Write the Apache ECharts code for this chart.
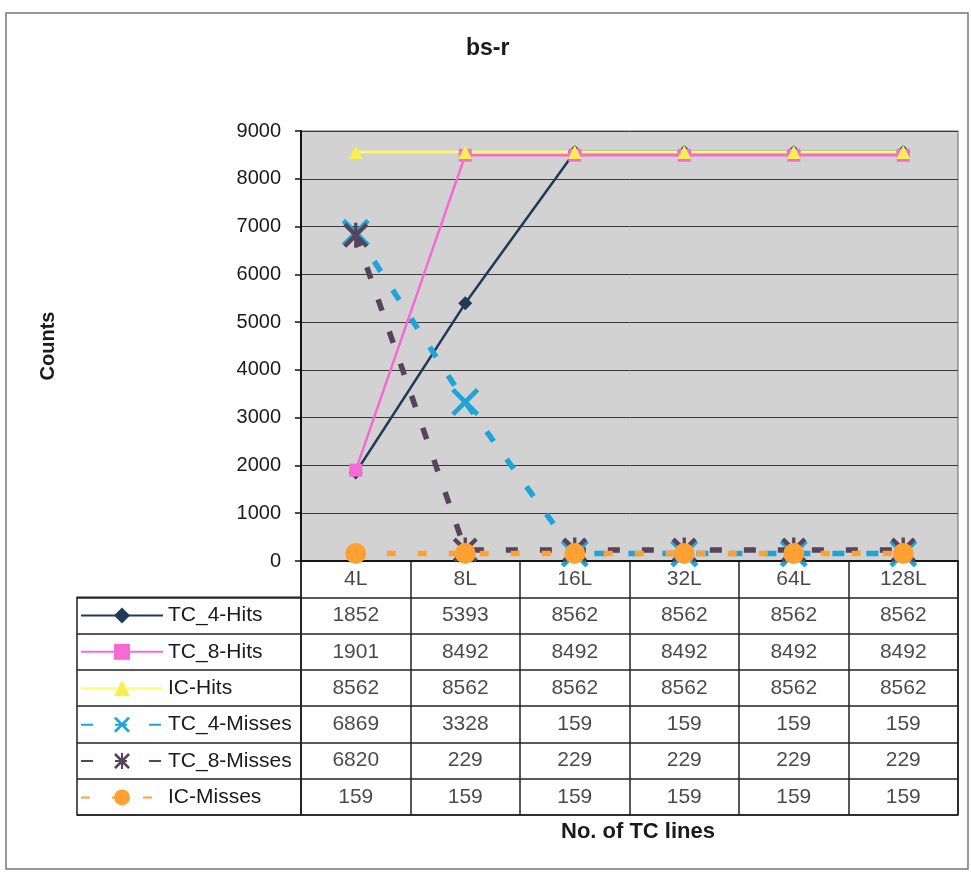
<!DOCTYPE html>
<html>
<head>
<meta charset="utf-8">
<script src="https://cdn.jsdelivr.net/npm/echarts@6/dist/echarts.min.js"></script>
<style>
html,body{margin:0;padding:0;background:#fff;}
#chart{width:971px;height:872px;}
</style>
</head>
<body>
<div id="chart"></div>
<script>
const categories = ['4L', '8L', '16L', '32L', '64L', '128L'];
const seriesNames = ['TC_4-Hits', 'TC_8-Hits', 'IC-Hits', 'TC_4-Misses', 'TC_8-Misses', 'IC-Misses'];
const tc4Hits = [1852, 5393, 8562, 8562, 8562, 8562];
const tc8Hits = [1901, 8492, 8492, 8492, 8492, 8492];
const icHits = [8562, 8562, 8562, 8562, 8562, 8562];
const tc4Misses = [6869, 3328, 159, 159, 159, 159];
const tc8Misses = [6820, 229, 229, 229, 229, 229];
const icMisses = [159, 159, 159, 159, 159, 159];
const yTicks = [0, 1000, 2000, 3000, 4000, 5000, 6000, 7000, 8000, 9000];

const FONT = '"Liberation Sans", Arial, sans-serif';
const X_PATH = 'path://M0,1.2L1.2,0L5,3.8L8.8,0L10,1.2L6.2,5L10,8.8L8.8,10L5,6.2L1.2,10L0,8.8L3.8,5Z';
const STAR_PATH = X_PATH + 'M4.35,0L5.65,0L5.65,10L4.35,10Z';

const allValues = [tc4Hits, tc8Hits, icHits, tc4Misses, tc8Misses, icMisses];

const plot = {left: 301, top: 131, width: 657, height: 430};
const rowH = 36.3;
const tableGrid = {left: 301, top: 561, width: 657, height: rowH * 7};
const legendGrid = {left: 77, top: 561 + rowH, width: 224, height: rowH * 6};

// table cell data
const headerCells = categories.map((c, i) => [i, 0, c]);
const valueCells = [];
allValues.forEach((arr, r) => arr.forEach((v, c) => valueCells.push([c, r + 1, v])));

const chart = echarts.init(document.getElementById('chart'));
const lineSeries = [
  {name: seriesNames[0], data: tc4Hits, color: '#1f3b57', symbol: 'diamond', symbolSize: 14,
   lineStyle: {width: 2.5, type: 'solid'}},
  {name: seriesNames[1], data: tc8Hits, color: '#f56bd3', symbol: 'rect', symbolSize: 13,
   lineStyle: {width: 2.5, type: 'solid'}},
  {name: seriesNames[2], data: icHits, color: '#f5ee55', symbol: 'triangle', symbolSize: 14,
   lineStyle: {width: 2.5, type: 'solid', color: '#ffff66'}},
  {name: seriesNames[3], data: tc4Misses, color: '#1ea5d8', symbol: X_PATH, symbolSize: 28,
   lineStyle: {width: 5.5, type: [12, 22]}},
  {name: seriesNames[4], data: tc8Misses, color: '#55445a', symbol: STAR_PATH, symbolSize: 25,
   lineStyle: {width: 5.5, type: [12, 22]}},
  {name: seriesNames[5], data: icMisses, color: '#ffa033', symbol: 'circle', symbolSize: 21,
   lineStyle: {width: 5.5, type: [9, 22]}}
].map(s => Object.assign({
  type: 'line', xAxisIndex: 0, yAxisIndex: 0, showAllSymbol: true, animation: false,
  itemStyle: {color: s.color, opacity: 1}
}, s));

const option = {
  animation: false,
  backgroundColor: '#ffffff',
  title: [
    {text: 'bs-r', left: 466, top: 37, padding: 0,
     textStyle: {fontFamily: FONT, fontSize: 23, fontWeight: 'bold', color: '#1a1a1a'}},
    {text: 'No. of TC lines', left: 561, top: 821, padding: 0,
     textStyle: {fontFamily: FONT, fontSize: 22, fontWeight: 'bold', color: '#1a1a1a'}}
  ],
  legend: {
    data: seriesNames,
    orient: 'vertical',
    left: 80,
    top: 561 + rowH + rowH / 2 - 10.5,
    itemWidth: 82,
    itemHeight: 20,
    itemGap: 15.4,
    padding: 0,
    selectedMode: false,
    textStyle: {fontFamily: FONT, fontSize: 21, lineHeight: 20, color: '#1a1a1a'}
  },
  grid: [
    Object.assign({show: true, backgroundColor: '#d2d2d2', borderColor: '#666', borderWidth: 1}, plot),
    Object.assign({show: true, backgroundColor: 'transparent', borderColor: '#222', borderWidth: 1.5}, tableGrid),
    Object.assign({show: true, backgroundColor: 'transparent', borderColor: '#222', borderWidth: 1.5}, legendGrid)
  ],
  xAxis: [
    {type: 'category', gridIndex: 0, data: categories, boundaryGap: true,
     axisLine: {lineStyle: {color: '#111', width: 1.5}}, axisTick: {show: false}, axisLabel: {show: false}},
    {type: 'category', gridIndex: 1, data: categories, boundaryGap: true, position: 'top',
     axisLine: {show: false}, axisTick: {show: false}, axisLabel: {show: false},
     splitLine: {show: true, interval: 0, lineStyle: {color: '#222', width: 1.5}}},
    {type: 'value', gridIndex: 2, min: 0, max: 1, show: false}
  ],
  yAxis: [
    {type: 'value', gridIndex: 0, min: 0, max: 9000, interval: 1000,
     name: 'Counts', nameLocation: 'middle', nameGap: 243, nameRotate: 90,
     nameTextStyle: {fontFamily: FONT, fontSize: 20, fontWeight: 'bold', color: '#1a1a1a'},
     axisLine: {show: true, lineStyle: {color: '#111', width: 2}},
     axisTick: {show: true, length: 6, lineStyle: {color: '#111', width: 1.5}},
     axisLabel: {fontFamily: FONT, fontSize: 20, color: '#1a1a1a', margin: 20,
       formatter: v => (yTicks.indexOf(v) >= 0 ? String(v) : '')},
     splitLine: {show: true, lineStyle: {color: '#3a3a3a', width: 1}}},
    {type: 'category', gridIndex: 1, inverse: true, data: ['hdr'].concat(seriesNames), boundaryGap: true,
     axisLine: {show: false}, axisTick: {show: false}, axisLabel: {show: false},
     splitLine: {show: true, interval: 0, lineStyle: {color: '#222', width: 1.5}}},
    {type: 'category', gridIndex: 2, inverse: true, data: seriesNames, boundaryGap: true,
     axisLine: {show: false}, axisTick: {show: false}, axisLabel: {show: false},
     splitLine: {show: true, interval: 0, lineStyle: {color: '#222', width: 1.5}}}
  ],
  series: lineSeries.concat([
    {type: 'scatter', xAxisIndex: 1, yAxisIndex: 1, data: headerCells.concat(valueCells),
     symbol: 'circle', symbolSize: 1, itemStyle: {color: 'rgba(0,0,0,0)'}, silent: true,
     label: {show: true, position: 'inside', fontFamily: FONT, fontSize: 21, color: '#1a1a1a',
       formatter: p => String(p.data[2])}}
  ]),
  graphic: [
    {type: 'rect', silent: true, z: -10, shape: {x: 6, y: 13, width: 962, height: 856},
     style: {fill: 'none', stroke: '#777', lineWidth: 1.5}}
  ]
};
chart.setOption(option);
</script>
</body>
</html>
